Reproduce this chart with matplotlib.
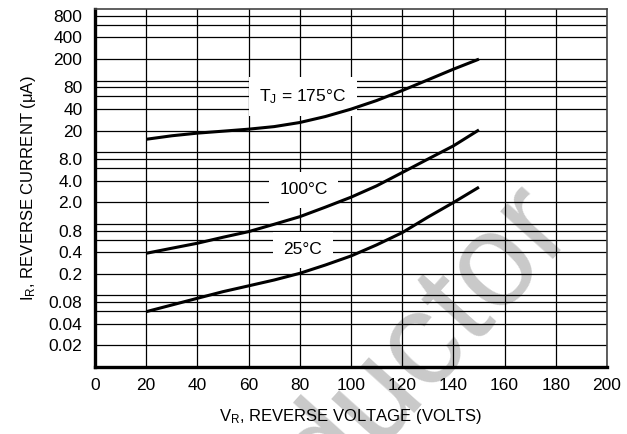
import matplotlib
matplotlib.use('Agg')
import matplotlib.pyplot as plt
import numpy as np

plt.rcParams['font.family'] = ['Liberation Sans', 'DejaVu Sans']
plt.rcParams['mathtext.fontset'] = 'custom'
plt.rcParams['mathtext.rm'] = 'Liberation Sans'
plt.rcParams['mathtext.it'] = 'Liberation Sans'

## data (every 10 V)
vr = [20, 30, 40, 50, 60, 70, 80, 90, 100, 110, 120, 130, 140, 150]
ir_175 = [15.1, 16.9, 18.4, 19.6, 20.9, 22.7, 25.9, 31.4, 39.8, 52.5, 72.4, 102, 144, 199]
ir_100 = [0.385, 0.453, 0.532, 0.645, 0.773, 0.98, 1.25, 1.70, 2.34, 3.37, 5.17, 7.96, 12.2, 20.4]
ir_25 = [0.0588, 0.0729, 0.0905, 0.112, 0.135, 0.163, 0.202, 0.264, 0.353, 0.504, 0.748, 1.23, 1.97, 3.23]

curve_labels = ['T$_J$ = 175°C', '100°C', '25°C']
label_pos = [(81.2, 60), (81.5, 2.96), (81.2, 0.43)]

ytick_vals = [800, 400, 200, 80, 40, 20, 8, 4, 2, 0.8, 0.4, 0.2, 0.08, 0.04, 0.02]
ytick_text = ['800', '400', '200', '80', '40', '20', '8.0', '4.0', '2.0',
              '0.8', '0.4', '0.2', '0.08', '0.04', '0.02']
ygrid_extra = [600, 100, 60, 10, 6, 1, 0.6, 0.1, 0.06]
xtick_vals = list(range(0, 201, 20))

fig = plt.figure(figsize=(6.27, 4.34), dpi=100)
fig.patch.set_facecolor('white')
ax = fig.add_axes([0.1515, 0.155, 0.8165, 0.8243])
ax.set_facecolor('none')

# faint watermark behind everything
fig.text(0.68, 0.21, 'ductor', fontsize=96, color='#c9c9c9', rotation=48,
         ha='center', va='center', zorder=-5, family='Liberation Sans')

ax.set_yscale('log')
ax.set_xlim(0, 200)
ax.set_ylim(0.01, 1000)

ax.set_xticks(xtick_vals)
ax.set_xticklabels([str(v) for v in xtick_vals], fontsize=12.5)
ax.set_yticks(ytick_vals)
ax.set_yticklabels(ytick_text, fontsize=12.5)
ax.set_yticks(ygrid_extra, minor=True)
ax.yaxis.set_minor_formatter(matplotlib.ticker.NullFormatter())
ax.tick_params(axis='both', which='both', length=0)
ax.tick_params(axis='x', pad=8)
ax.tick_params(axis='y', pad=9)

ax.grid(True, which='both', color='black', linewidth=0.9)
ax.set_axisbelow(True)

for s in ['left', 'bottom']:
    ax.spines[s].set_linewidth(2.4)
for s in ['top', 'right']:
    ax.spines[s].set_linewidth(1.2)
    ax.spines[s].set_color('#444444')

for ys in [ir_175, ir_100, ir_25]:
    ax.plot(vr, ys, color='black', linewidth=2.2, solid_capstyle='butt',
            solid_joinstyle='round', zorder=3)

# labels sit over the grid but under the curves
for txt, (lx, ly) in zip(curve_labels, label_pos):
    ax.text(lx, ly, txt, fontsize=12.5, ha='center', va='center', zorder=2.5,
            bbox=dict(boxstyle='square,pad=0.6', facecolor='white', edgecolor='none'))

ax.set_xlabel('V$_R$, REVERSE VOLTAGE (VOLTS)', fontsize=12, labelpad=10)
ax.set_ylabel('I$_R$, REVERSE CURRENT (μA)', fontsize=12, labelpad=8)

fig.savefig('out.png', dpi=100, facecolor='white')
